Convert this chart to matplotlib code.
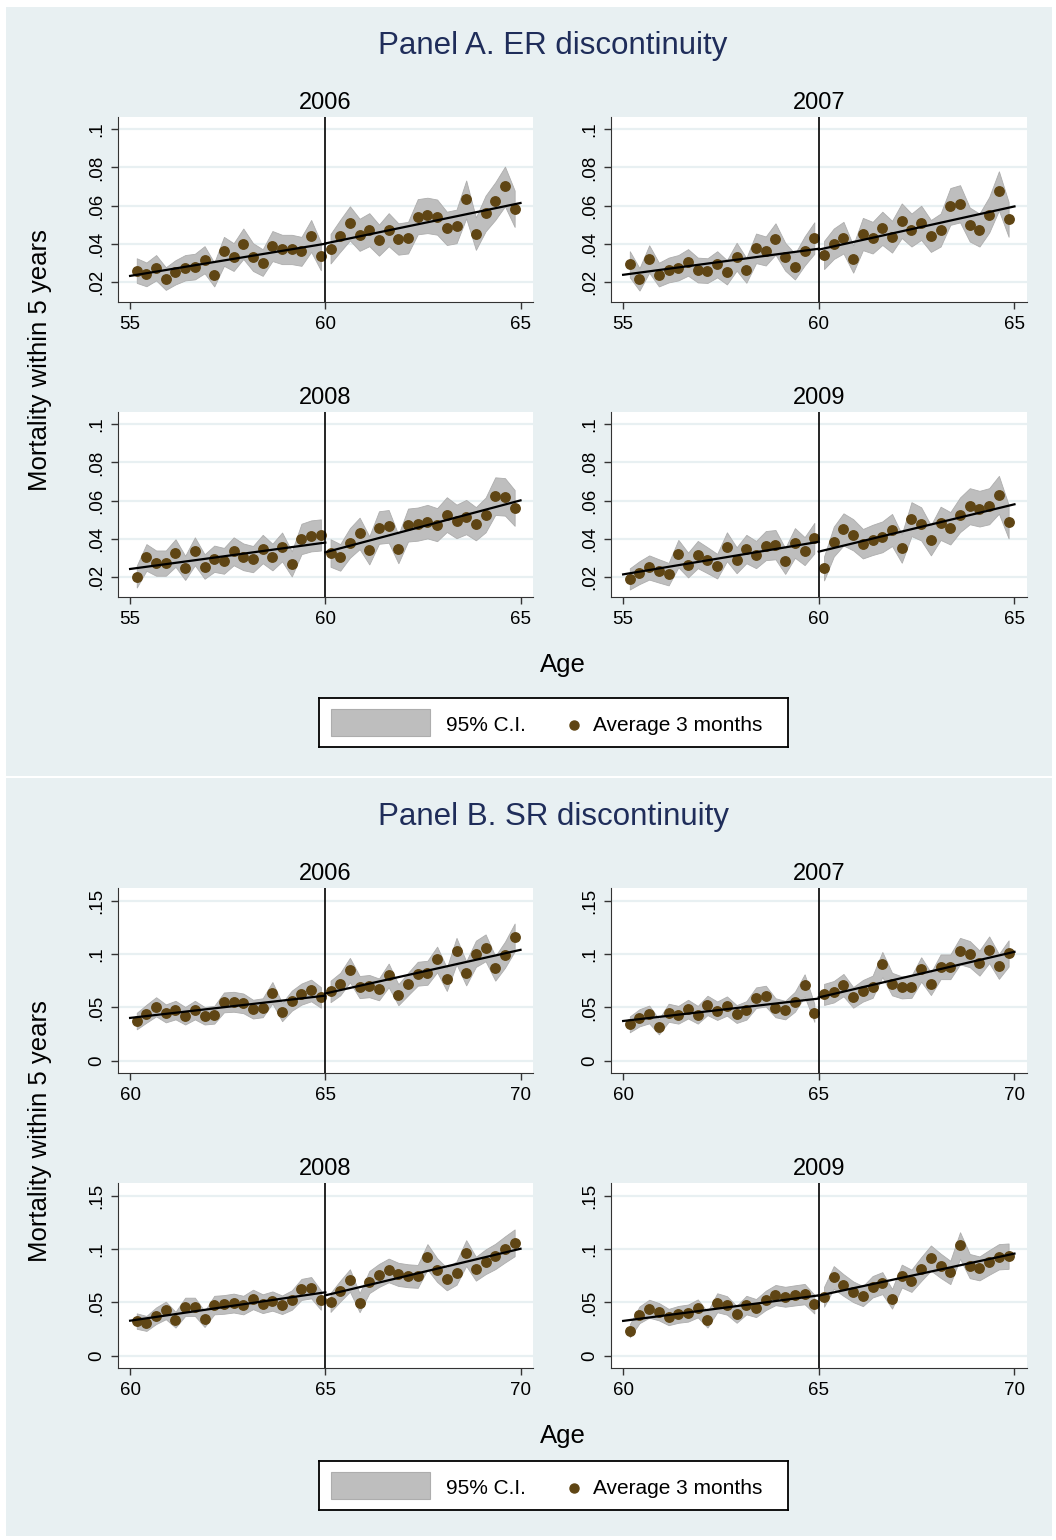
import numpy as np
import matplotlib
matplotlib.use("Agg")
from matplotlib import pyplot as plt
from matplotlib.patches import Rectangle

plt.rcParams['font.family'] = ['Liberation Sans', 'DejaVu Sans']

W, H = 1056, 1540

years = ["2006", "2007", "2008", "2009"]

# Panel A - ER discontinuity, quarterly age bins 55-65
age_a = np.linspace(55.17, 64.85, 40)
er_2006 = [0.0258, 0.0238, 0.0273, 0.0216, 0.0249, 0.0273, 0.0279, 0.0315, 0.0237, 0.0359,
           0.0329, 0.0399, 0.0329, 0.0300, 0.0387, 0.0369, 0.0369, 0.0359, 0.0440, 0.0333,
           0.0373, 0.0441, 0.0506, 0.0446, 0.0473, 0.0418, 0.0473, 0.0424, 0.0431, 0.0541,
           0.0548, 0.0539, 0.0480, 0.0490, 0.0632, 0.0452, 0.0558, 0.0623, 0.0700, 0.0583]
er_2007 = [0.0291, 0.0212, 0.0319, 0.0237, 0.0261, 0.0273, 0.0301, 0.0261, 0.0258, 0.0291,
           0.0249, 0.0331, 0.0259, 0.0375, 0.0361, 0.0424, 0.0331, 0.0279, 0.0361, 0.0429,
           0.0340, 0.0399, 0.0431, 0.0319, 0.0450, 0.0431, 0.0480, 0.0436, 0.0520, 0.0471,
           0.0509, 0.0440, 0.0471, 0.0595, 0.0609, 0.0500, 0.0471, 0.0551, 0.0677, 0.0527]
er_2008 = [0.0200, 0.0301, 0.0271, 0.0271, 0.0324, 0.0246, 0.0333, 0.0253, 0.0294, 0.0283,
           0.0333, 0.0304, 0.0292, 0.0345, 0.0303, 0.0356, 0.0267, 0.0398, 0.0414, 0.0419,
           0.0324, 0.0301, 0.0377, 0.0427, 0.0338, 0.0458, 0.0464, 0.0345, 0.0471, 0.0476,
           0.0489, 0.0473, 0.0526, 0.0490, 0.0513, 0.0478, 0.0524, 0.0623, 0.0619, 0.0561]
er_2009 = [0.0188, 0.0221, 0.0248, 0.0230, 0.0213, 0.0321, 0.0261, 0.0316, 0.0286, 0.0255,
           0.0357, 0.0286, 0.0345, 0.0316, 0.0363, 0.0368, 0.0282, 0.0377, 0.0334, 0.0402,
           0.0243, 0.0384, 0.0448, 0.0420, 0.0373, 0.0393, 0.0409, 0.0445, 0.0348, 0.0502,
           0.0477, 0.0391, 0.0480, 0.0454, 0.0525, 0.0570, 0.0557, 0.0570, 0.0630, 0.0489]

# Panel B - SR discontinuity, quarterly age bins 60-70
age_b = np.linspace(60.17, 69.85, 40)
sr_2006 = [0.0372, 0.0441, 0.0506, 0.0444, 0.0475, 0.0422, 0.0475, 0.0422, 0.0431, 0.0547,
           0.0553, 0.0538, 0.0484, 0.0497, 0.0638, 0.0456, 0.0563, 0.0625, 0.0659, 0.0594,
           0.0650, 0.0719, 0.0850, 0.0691, 0.0700, 0.0669, 0.0800, 0.0619, 0.0719, 0.0816,
           0.0825, 0.0950, 0.0763, 0.1028, 0.0819, 0.1003, 0.1059, 0.0866, 0.0994, 0.1156]
sr_2007 = [0.0341, 0.0403, 0.0434, 0.0319, 0.0450, 0.0431, 0.0484, 0.0431, 0.0519, 0.0469,
           0.0513, 0.0438, 0.0472, 0.0591, 0.0606, 0.0497, 0.0475, 0.0553, 0.0706, 0.0450,
           0.0622, 0.0647, 0.0709, 0.0594, 0.0656, 0.0694, 0.0903, 0.0719, 0.0688, 0.0694,
           0.0856, 0.0722, 0.0881, 0.0881, 0.1028, 0.1000, 0.0916, 0.1041, 0.0884, 0.1006]
sr_2008 = [0.0325, 0.0303, 0.0375, 0.0425, 0.0338, 0.0459, 0.0459, 0.0344, 0.0475, 0.0481,
           0.0494, 0.0475, 0.0528, 0.0488, 0.0513, 0.0478, 0.0522, 0.0622, 0.0638, 0.0522,
           0.0500, 0.0606, 0.0706, 0.0497, 0.0691, 0.0753, 0.0800, 0.0763, 0.0750, 0.0744,
           0.0928, 0.0803, 0.0719, 0.0775, 0.0963, 0.0816, 0.0881, 0.0931, 0.0997, 0.1059]
sr_2009 = [0.0234, 0.0384, 0.0441, 0.0413, 0.0363, 0.0388, 0.0400, 0.0444, 0.0338, 0.0497,
           0.0472, 0.0388, 0.0475, 0.0447, 0.0519, 0.0569, 0.0553, 0.0566, 0.0578, 0.0484,
           0.0553, 0.0734, 0.0663, 0.0600, 0.0559, 0.0647, 0.0681, 0.0534, 0.0747, 0.0703,
           0.0813, 0.0916, 0.0844, 0.0781, 0.1034, 0.0841, 0.0819, 0.0875, 0.0928, 0.0934]

cutoff_a = 60
cutoff_b = 65
sample_n = 2300   # approx. people per 3-month bin (for the 95% C.I.)

yticks_a = [0.02, 0.04, 0.06, 0.08, 0.1]
ylabels_a = [".02", ".04", ".06", ".08", ".1"]
yticks_b = [0, 0.05, 0.1, 0.15]
ylabels_b = ["0", ".05", ".1", ".15"]

BG = "#e8f0f2"
DOT = "#5f4514"
NAVY = "#1f2d5a"
CI_COL = "#bebebe"


def rect(x0, y0, x1, y1):
    # pixel box (from top-left) -> figure fraction
    return [x0 / W, 1 - y1 / H, (x1 - x0) / W, (y1 - y0) / H]


def draw_sub(ax, ages, vals, cutoff, xlim, ylim, yticks, ylabels, title):
    ages = np.asarray(ages)
    vals = np.asarray(vals)
    ax.set_facecolor("white")
    for t in yticks:
        ax.axhline(t, color=BG, lw=1.6, zorder=0)
    for side in [ages < cutoff, ages >= cutoff]:
        x = ages[side]
        y = vals[side]
        half = 1.96 * np.sqrt(y * (1 - y) / sample_n)
        ax.fill_between(x, y - half, y + half, color=CI_COL, ec="#adadad", lw=0.6, zorder=1)
        ax.plot(x, y, "o", color=DOT, ms=6.8, zorder=3)
        coef = np.polyfit(x, y, 1)
        if x[0] < cutoff:
            xx = np.array([cutoff - 5, cutoff])
        else:
            xx = np.array([cutoff, cutoff + 5])
        ax.plot(xx, np.polyval(coef, xx), color="black", lw=1.6, zorder=4)
    ax.axvline(cutoff, color="black", lw=1.2, zorder=5)
    ax.set_xlim(xlim)
    ax.set_ylim(ylim)
    ax.set_xticks([cutoff - 5, cutoff, cutoff + 5])
    ax.set_xticklabels([str(cutoff - 5), str(cutoff), str(cutoff + 5)])
    ax.set_yticks(yticks)
    ax.set_yticklabels(ylabels, rotation=90, va="center")
    ax.tick_params(axis="both", labelsize=13.5, length=5, width=1, color="#333333")
    ax.tick_params(axis="x", pad=5)
    ax.tick_params(axis="y", pad=4)
    ax.spines["top"].set_visible(False)
    ax.spines["right"].set_visible(False)
    ax.spines["left"].set_color("#333333")
    ax.spines["bottom"].set_color("#333333")
    ax.set_title(title, fontsize=17, pad=6)


def draw_legend(y0):
    lg = fig.add_axes(rect(319, y0, 788, y0 + 49))
    lg.set_xlim(319, 788)
    lg.set_ylim(y0 + 49, y0)
    lg.set_facecolor("white")
    lg.set_xticks([])
    lg.set_yticks([])
    for s in lg.spines.values():
        s.set_color("black")
        s.set_linewidth(1.3)
    lg.add_patch(Rectangle((331, y0 + 11), 99, 27, fc=CI_COL, ec="#adadad", lw=0.8))
    lg.text(446, y0 + 28, "95% C.I.", fontsize=15, va="center")
    lg.plot([574], [y0 + 27], "o", color=DOT, ms=6.5)
    lg.text(593, y0 + 28, "Average 3 months", fontsize=15, va="center")


fig = plt.figure(figsize=(W / 100, H / 100), dpi=100, facecolor="white")
fig.patches.append(Rectangle((6 / W, 1 - 776 / H), 1046 / W, 769 / H,
                             transform=fig.transFigure, fc=BG, ec="none", zorder=-5))
fig.patches.append(Rectangle((6 / W, 1 - 1536 / H), 1046 / W, 758 / H,
                             transform=fig.transFigure, fc=BG, ec="none", zorder=-5))

boxes = [(118, 117, 533, 302), (611, 117, 1027, 302),
         (118, 412, 533, 597), (611, 412, 1027, 597)]

panels = [
    (0, "Panel A. ER discontinuity", age_a, [er_2006, er_2007, er_2008, er_2009], cutoff_a,
     (54.69, 65.32), (0.0093, 0.1065), yticks_a, ylabels_a, 698),
    (771, "Panel B. SR discontinuity", age_b, [sr_2006, sr_2007, sr_2008, sr_2009], cutoff_b,
     (59.69, 70.32), (-0.0115, 0.162), yticks_b, ylabels_b, 1461),
]

for dy, ptitle, ages, series, cutoff, xlim, ylim, yt, yl, leg_y in panels:
    fig.text(553 / W, 1 - (54 + dy) / H, ptitle, fontsize=22.5, color=NAVY,
             ha="center", va="baseline")
    for (x0, y0, x1, y1), vals, yr in zip(boxes, series, years):
        ax = fig.add_axes(rect(x0, y0 + dy, x1, y1 + dy))
        draw_sub(ax, ages, vals, cutoff, xlim, ylim, yt, yl, yr)
    fig.text(40 / W, 1 - (360 + dy) / H, "Mortality within 5 years", fontsize=18.5,
             rotation=90, ha="center", va="center")
    fig.text(563 / W, 1 - (672 + dy) / H, "Age", fontsize=18.5, ha="center", va="baseline")
    draw_legend(leg_y)

fig.savefig("out.png", dpi=100, facecolor="white")
